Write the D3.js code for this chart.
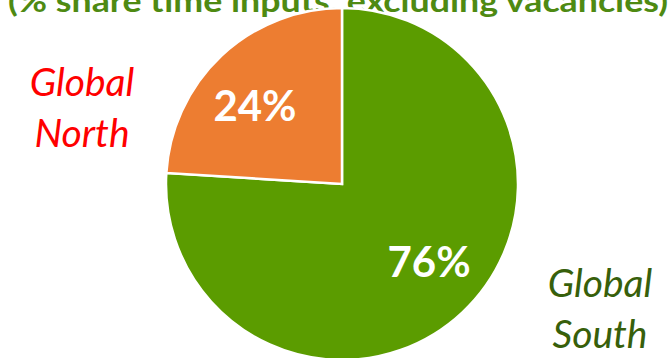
<!DOCTYPE html>
<html>
<head>
<meta charset="utf-8">
<script src="https://cdn.jsdelivr.net/npm/d3@7"></script>
<style>
  body { margin: 0; background: #fff; }
  svg { display: block; }
</style>
</head>
<body>
<div id="chart"></div>
<script>
const regions = ["Global South", "Global North"];
const shares = [76, 24];
const sliceColors = ["#5b9c00", "#ed7d31"];
const titleText = "(% share time inputs, excluding vacancies)";

const width = 672, height = 358;
const cx = 342, cy = 184, radius = 176;

const svg = d3.select("#chart")
  .append("svg")
  .attr("width", width)
  .attr("height", height);

svg.append("text")
  .attr("x", 338)
  .attr("y", 12)
  .attr("text-anchor", "middle")
  .attr("font-family", "Lato, 'Open Sans', sans-serif")
  .attr("font-weight", "bold")
  .attr("font-size", 30)
  .attr("fill", "#4e8a12")
  .attr("textLength", 660)
  .attr("lengthAdjust", "spacingAndGlyphs")
  .text(titleText);

const data = regions.map((r, i) => ({ region: r, value: shares[i], color: sliceColors[i] }));

// green runs clockwise from 12 o'clock, orange fills the rest
const pie = d3.pie()
  .value(d => d.value)
  .sort(null);

const arc = d3.arc().innerRadius(0).outerRadius(radius);

const g = svg.append("g")
  .attr("transform", `translate(${cx},${cy})`);

const slices = g.selectAll("g.slice")
  .data(pie(data))
  .enter()
  .append("g")
  .attr("class", "slice");

slices.append("path")
  .attr("d", arc)
  .attr("fill", d => d.data.color)
  .attr("stroke", "#fff")
  .attr("stroke-width", 2.5);

// labels sit a bit counter-clockwise of the slice middle, like the original
slices.append("text")
  .attr("transform", d => {
    const mid = (d.startAngle + d.endAngle) / 2 - 0.085;
    return `translate(${d3.pointRadial(mid, 117)})`;
  })
  .attr("dy", "0.36em")
  .attr("text-anchor", "middle")
  .attr("font-family", "Lato, 'Open Sans', sans-serif")
  .attr("font-weight", "bold")
  .attr("font-size", 42)
  .attr("fill", "#fff")
  .text(d => d.data.value + "%");

// side labels
const sideLabels = [
  { lines: ["Global", "North"], x: 82, y: 96, color: "#ff0000" },
  { lines: ["Global", "South"], x: 600, y: 297, color: "#375f0b" }
];

sideLabels.forEach(l => {
  const t = svg.append("text")
    .attr("text-anchor", "middle")
    .attr("font-family", "Lato, 'Open Sans', sans-serif")
    .attr("font-style", "italic")
    .attr("font-size", 39)
    .attr("fill", l.color);
  l.lines.forEach((line, i) => {
    t.append("tspan")
      .attr("x", l.x)
      .attr("y", l.y + i * 51)
      .text(line);
  });
});
</script>
</body>
</html>
